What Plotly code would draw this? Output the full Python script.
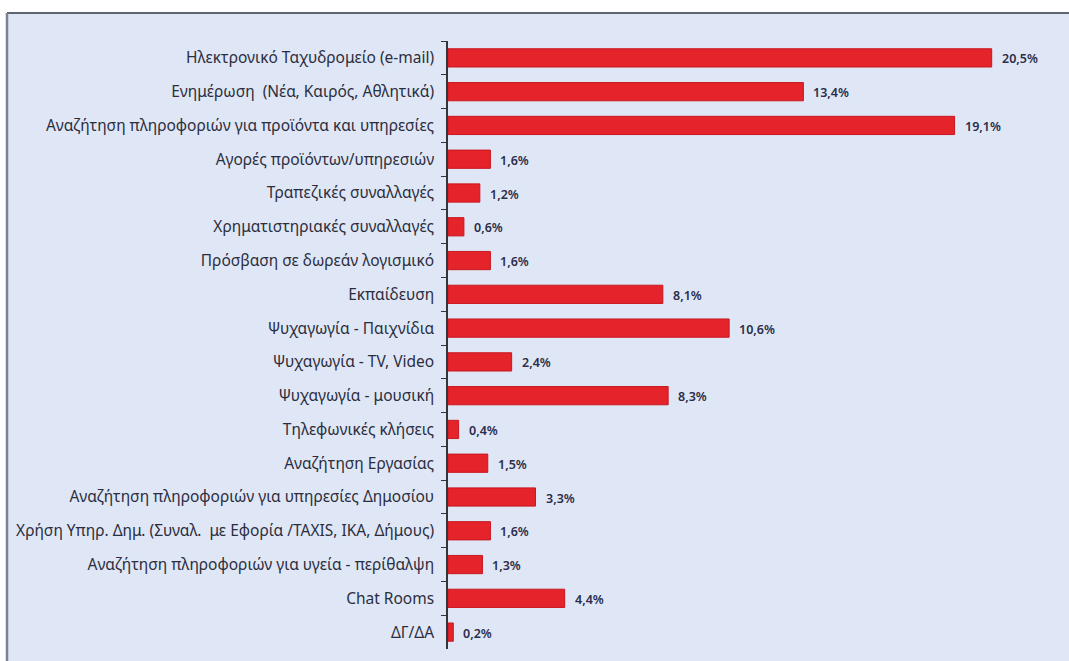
import plotly.graph_objects as go

# Χρήσεις του Διαδικτύου (ποσοστά %)
categories = [
    "Ηλεκτρονικό Ταχυδρομείο (e-mail)",
    "Ενημέρωση  (Νέα, Καιρός, Αθλητικά)",
    "Αναζήτηση πληροφοριών για προϊόντα και υπηρεσίες",
    "Αγορές προϊόντων/υπηρεσιών",
    "Τραπεζικές συναλλαγές",
    "Χρηματιστηριακές συναλλαγές",
    "Πρόσβαση σε δωρεάν λογισμικό",
    "Εκπαίδευση",
    "Ψυχαγωγία - Παιχνίδια",
    "Ψυχαγωγία - TV, Video",
    "Ψυχαγωγία - μουσική",
    "Τηλεφωνικές κλήσεις",
    "Αναζήτηση Εργασίας",
    "Αναζήτηση πληροφοριών για υπηρεσίες Δημοσίου",
    "Χρήση Υπηρ. Δημ. (Συναλ.  με Εφορία /TAXIS, ΙΚΑ, Δήμους)",
    "Αναζήτηση πληροφοριών για υγεία - περίθαλψη",
    "Chat Rooms",
    "ΔΓ/ΔΑ",
]
values = [20.5, 13.4, 19.1, 1.6, 1.2, 0.6, 1.6, 8.1, 10.6, 2.4, 8.3, 0.4, 1.5, 3.3, 1.6, 1.3, 4.4, 0.2]

W, H = 1069, 661
ML, MR, MT, MB = 448, 11, 41, 12
plot_w = W - ML - MR
plot_h = H - MT - MB


def px_x(p):
    return (p - ML) / plot_w


def px_y(p):
    return (H - MB - p) / plot_h


fig = go.Figure()
fig.add_trace(go.Bar(
    x=values,
    y=categories,
    orientation="h",
    marker=dict(color="#e4232b", line=dict(color="#c9171f", width=1)),
    hoverinfo="skip",
))

# value labels beside each bar
for cat, v in zip(categories, values):
    fig.add_annotation(
        x=v, y=cat, xref="x", yref="y",
        text=f"{v:.1f}%".replace(".", ","),
        showarrow=False, xanchor="left", xshift=8, yshift=-1,
        font=dict(family="Noto Sans", size=12.5, color="#2b2d4a", weight=600),
    )

# white strip above the framed panel and white margin to its left
fig.add_shape(
    type="rect", xref="paper", yref="paper", layer="below",
    x0=px_x(-20), x1=px_x(W + 60), y0=px_y(13), y1=px_y(-20),
    fillcolor="white", line=dict(width=0),
)
fig.add_shape(
    type="rect", xref="paper", yref="paper", layer="below",
    x0=px_x(-20), x1=px_x(7), y0=px_y(H + 30), y1=px_y(-20),
    fillcolor="white", line=dict(width=0),
)
# grey frame: top and left edges
fig.add_shape(
    type="line", xref="paper", yref="paper", layer="below",
    x0=px_x(7), x1=px_x(W + 60), y0=px_y(13), y1=px_y(13),
    line=dict(color="#5f6470", width=2),
)
fig.add_shape(
    type="line", xref="paper", yref="paper", layer="below",
    x0=px_x(7), x1=px_x(7), y0=px_y(13), y1=px_y(H + 30),
    line=dict(color="#7c8290", width=2.5),
)

fig.update_layout(
    width=W, height=H,
    margin=dict(l=ML, r=MR, t=MT, b=MB),
    paper_bgcolor="#dfe7f6",
    plot_bgcolor="rgba(0,0,0,0)",
    bargap=0.46,
    showlegend=False,
    xaxis=dict(range=[0, 23], visible=False, fixedrange=True),
    yaxis=dict(
        autorange="reversed",
        showline=True, linecolor="#33343c", linewidth=1.5,
        ticks="outside", tickson="boundaries", ticklen=5, tickcolor="#33343c",
        tickwidth=1.2, ticklabelstandoff=9,
        tickfont=dict(family="Noto Sans", size=15.5, color="#2c2e3e"),
        showgrid=False,
    ),
)

fig.write_html("out.html")
